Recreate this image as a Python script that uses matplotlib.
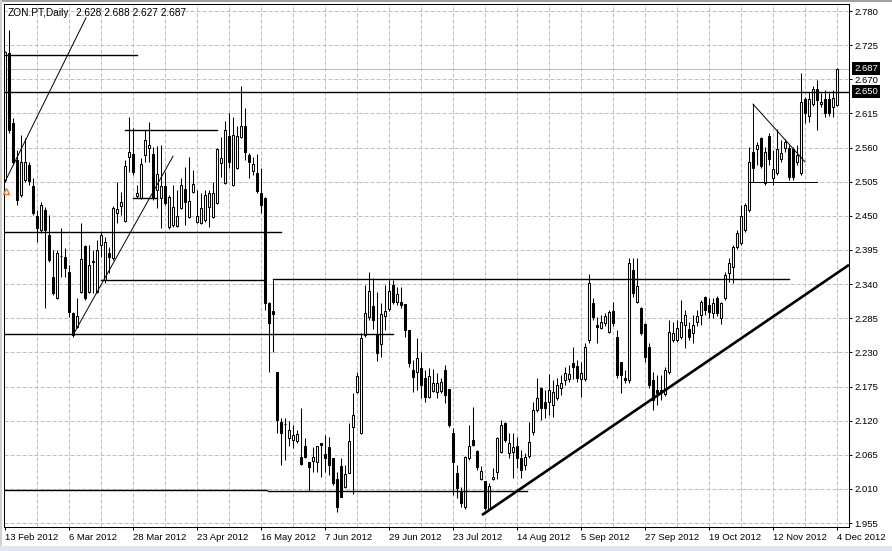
import matplotlib
matplotlib.use('Agg')
import matplotlib.pyplot as plt
import matplotlib.transforms as mtransforms
from matplotlib.patches import Rectangle

plt.rcParams['font.family'] = ['Liberation Sans', 'DejaVu Sans']

symbol = 'ZON.PT,Daily'
last_ohlc = '2.628 2.688 2.627 2.687'

# daily bars, one per trading day from 13 Feb 2012
opens = [2.508, 2.712, 2.600, 2.540, 2.483, 2.508, 2.532, 2.498, 2.450, 2.427,
         2.459, 2.419, 2.351, 2.318, 2.386, 2.384, 2.359, 2.293, 2.271, 2.327,
         2.401, 2.327, 2.376, 2.327, 2.403, 2.347, 2.390, 2.382, 2.454, 2.466,
         2.442, 2.545, 2.550, 2.482, 2.479, 2.548, 2.559, 2.550, 2.492, 2.479,
         2.498, 2.432, 2.435, 2.434, 2.463, 2.493, 2.448, 2.488, 2.440, 2.438,
         2.443, 2.464, 2.448, 2.471, 2.535, 2.503, 2.579, 2.500, 2.527, 2.577,
         2.595, 2.548, 2.522, 2.519, 2.487, 2.479, 2.310, 2.297, 2.198, 2.118,
         2.115, 2.092, 2.089, 2.087, 2.061, 2.079, 2.053, 2.055, 2.053, 2.084,
         2.066, 2.077, 2.060, 2.026, 2.047, 2.013, 2.036, 2.110, 2.166, 2.100,
         2.258, 2.287, 2.305, 2.260, 2.243, 2.289, 2.300, 2.338, 2.311, 2.311,
         2.308, 2.266, 2.202, 2.198, 2.205, 2.189, 2.158, 2.168, 2.166, 2.168,
         2.202, 2.171, 2.100, 2.036, 2.005, 1.981, 2.060, 2.089, 2.071, 2.026,
         2.023, 1.978, 2.026, 2.037, 2.070, 2.116, 2.068, 2.070, 2.079, 2.060,
         2.049, 2.063, 2.102, 2.137, 2.173, 2.150, 2.150, 2.145, 2.157, 2.173,
         2.185, 2.187, 2.213, 2.208, 2.187, 2.187, 2.250, 2.310, 2.274, 2.269,
         2.277, 2.263, 2.297, 2.255, 2.214, 2.189, 2.185, 2.363, 2.311, 2.301,
         2.276, 2.239, 2.185, 2.169, 2.169, 2.163, 2.198, 2.250, 2.250, 2.255,
         2.274, 2.268, 2.261, 2.279, 2.290, 2.319, 2.306, 2.293, 2.317, 2.285,
         2.318, 2.358, 2.368, 2.400, 2.406, 2.427, 2.459, 2.527, 2.558, 2.575,
         2.503, 2.579, 2.511, 2.519, 2.541, 2.559, 2.559, 2.558, 2.537, 2.519,
         2.638, 2.611, 2.630, 2.654, 2.630, 2.638, 2.638, 2.625, 2.628]
highs = [2.716, 2.749, 2.608, 2.556, 2.580, 2.575, 2.537, 2.511, 2.459, 2.472,
         2.464, 2.451, 2.395, 2.395, 2.430, 2.398, 2.371, 2.295, 2.318, 2.438,
         2.403, 2.403, 2.395, 2.411, 2.424, 2.416, 2.400, 2.466, 2.505, 2.488,
         2.540, 2.609, 2.591, 2.500, 2.543, 2.588, 2.601, 2.561, 2.562, 2.564,
         2.521, 2.483, 2.500, 2.492, 2.511, 2.529, 2.545, 2.524, 2.492, 2.487,
         2.492, 2.492, 2.505, 2.559, 2.577, 2.603, 2.616, 2.609, 2.595, 2.659,
         2.624, 2.551, 2.545, 2.550, 2.527, 2.480, 2.311, 2.347, 2.199, 2.124,
         2.124, 2.119, 2.113, 2.105, 2.140, 2.092, 2.054, 2.078, 2.079, 2.084,
         2.097, 2.094, 2.060, 2.037, 2.060, 2.049, 2.116, 2.165, 2.198, 2.261,
         2.338, 2.359, 2.350, 2.327, 2.310, 2.338, 2.347, 2.347, 2.335, 2.335,
         2.308, 2.266, 2.218, 2.253, 2.231, 2.202, 2.205, 2.203, 2.197, 2.189,
         2.210, 2.171, 2.108, 2.049, 2.013, 2.063, 2.113, 2.142, 2.073, 2.047,
         2.023, 2.020, 2.044, 2.094, 2.121, 2.118, 2.100, 2.100, 2.094, 2.073,
         2.068, 2.118, 2.150, 2.189, 2.174, 2.169, 2.195, 2.185, 2.189, 2.193,
         2.206, 2.210, 2.239, 2.218, 2.214, 2.245, 2.356, 2.318, 2.287, 2.290,
         2.293, 2.298, 2.311, 2.266, 2.214, 2.201, 2.382, 2.382, 2.382, 2.303,
         2.277, 2.245, 2.198, 2.193, 2.193, 2.206, 2.282, 2.279, 2.282, 2.314,
         2.298, 2.279, 2.290, 2.298, 2.314, 2.321, 2.317, 2.317, 2.321, 2.311,
         2.359, 2.382, 2.403, 2.427, 2.467, 2.471, 2.561, 2.561, 2.569, 2.577,
         2.561, 2.583, 2.556, 2.590, 2.572, 2.574, 2.564, 2.561, 2.564, 2.680,
         2.641, 2.649, 2.659, 2.669, 2.648, 2.653, 2.648, 2.653, 2.688]
lows = [2.504, 2.583, 2.532, 2.467, 2.480, 2.504, 2.500, 2.451, 2.408, 2.422,
        2.301, 2.376, 2.322, 2.316, 2.351, 2.351, 2.287, 2.255, 2.269, 2.326,
        2.314, 2.326, 2.326, 2.326, 2.384, 2.342, 2.358, 2.379, 2.438, 2.451,
        2.440, 2.520, 2.516, 2.479, 2.477, 2.537, 2.537, 2.475, 2.463, 2.430,
        2.467, 2.429, 2.432, 2.432, 2.461, 2.435, 2.446, 2.487, 2.438, 2.437,
        2.440, 2.432, 2.446, 2.469, 2.513, 2.501, 2.527, 2.498, 2.525, 2.575,
        2.540, 2.511, 2.516, 2.487, 2.455, 2.298, 2.198, 2.231, 2.100, 2.049,
        2.057, 2.079, 2.076, 2.084, 2.049, 2.060, 2.007, 2.037, 2.037, 2.029,
        2.037, 2.032, 2.016, 1.973, 1.997, 2.011, 2.035, 2.002, 2.164, 2.098,
        2.255, 2.282, 2.268, 2.216, 2.222, 2.266, 2.297, 2.308, 2.306, 2.301,
        2.255, 2.206, 2.166, 2.169, 2.157, 2.150, 2.157, 2.166, 2.157, 2.164,
        2.148, 2.110, 2.000, 1.995, 1.981, 1.978, 2.057, 2.079, 2.040, 2.024,
        1.976, 1.976, 2.024, 2.026, 2.068, 2.086, 2.060, 2.028, 2.044, 2.028,
        2.040, 2.060, 2.097, 2.134, 2.121, 2.124, 2.129, 2.126, 2.153, 2.161,
        2.177, 2.182, 2.187, 2.182, 2.158, 2.184, 2.245, 2.282, 2.245, 2.268,
        2.272, 2.261, 2.272, 2.189, 2.165, 2.181, 2.181, 2.319, 2.310, 2.258,
        2.214, 2.173, 2.137, 2.145, 2.153, 2.160, 2.196, 2.247, 2.247, 2.252,
        2.237, 2.250, 2.245, 2.272, 2.274, 2.290, 2.285, 2.285, 2.289, 2.276,
        2.314, 2.343, 2.342, 2.397, 2.403, 2.424, 2.456, 2.505, 2.532, 2.527,
        2.500, 2.532, 2.500, 2.516, 2.537, 2.553, 2.508, 2.508, 2.532, 2.516,
        2.600, 2.601, 2.627, 2.588, 2.625, 2.609, 2.611, 2.609, 2.627]
closes = [2.714, 2.588, 2.537, 2.475, 2.537, 2.537, 2.506, 2.455, 2.430, 2.467,
          2.427, 2.379, 2.326, 2.390, 2.385, 2.366, 2.295, 2.258, 2.289, 2.380,
          2.318, 2.371, 2.376, 2.395, 2.419, 2.408, 2.384, 2.463, 2.461, 2.472,
          2.530, 2.553, 2.520, 2.487, 2.533, 2.572, 2.564, 2.479, 2.517, 2.498,
          2.471, 2.480, 2.464, 2.450, 2.500, 2.472, 2.474, 2.501, 2.450, 2.463,
          2.483, 2.487, 2.487, 2.558, 2.543, 2.588, 2.537, 2.580, 2.579, 2.595,
          2.553, 2.537, 2.533, 2.490, 2.467, 2.310, 2.277, 2.292, 2.121, 2.100,
          2.114, 2.105, 2.097, 2.099, 2.050, 2.061, 2.045, 2.061, 2.079, 2.081,
          2.060, 2.049, 2.020, 1.981, 1.997, 2.034, 2.087, 2.129, 2.192, 2.253,
          2.293, 2.329, 2.282, 2.229, 2.292, 2.297, 2.329, 2.311, 2.324, 2.306,
          2.266, 2.213, 2.190, 2.221, 2.177, 2.158, 2.192, 2.181, 2.181, 2.182,
          2.161, 2.113, 2.053, 2.011, 1.987, 2.061, 2.079, 2.081, 2.045, 2.039,
          1.979, 2.015, 2.029, 2.092, 2.113, 2.089, 2.084, 2.078, 2.060, 2.040,
          2.061, 2.086, 2.137, 2.157, 2.140, 2.140, 2.169, 2.166, 2.177, 2.181,
          2.197, 2.195, 2.206, 2.189, 2.197, 2.239, 2.342, 2.287, 2.271, 2.279,
          2.289, 2.295, 2.277, 2.194, 2.194, 2.185, 2.374, 2.326, 2.337, 2.261,
          2.223, 2.177, 2.153, 2.164, 2.168, 2.202, 2.263, 2.261, 2.269, 2.279,
          2.290, 2.255, 2.274, 2.289, 2.311, 2.298, 2.295, 2.310, 2.293, 2.310,
          2.355, 2.374, 2.400, 2.422, 2.450, 2.467, 2.537, 2.553, 2.564, 2.530,
          2.553, 2.541, 2.525, 2.558, 2.551, 2.569, 2.512, 2.512, 2.548, 2.633,
          2.616, 2.638, 2.654, 2.637, 2.633, 2.616, 2.616, 2.640, 2.687]

date_labels = ['13 Feb 2012', '6 Mar 2012', '28 Mar 2012', '23 Apr 2012',
               '16 May 2012', '7 Jun 2012', '29 Jun 2012', '23 Jul 2012',
               '14 Aug 2012', '5 Sep 2012', '27 Sep 2012', '19 Oct 2012',
               '12 Nov 2012', '4 Dec 2012']
price_ticks = [2.780, 2.725, 2.670, 2.615, 2.560, 2.505, 2.450, 2.395, 2.340,
               2.285, 2.230, 2.175, 2.120, 2.065, 2.010, 1.955]
bid_price = 2.687
level_price = 2.650

# drawn objects as (bar, price, bar, price)
hlines = [(-0.25, 2.709, 33, 2.709), (30, 2.589, 53, 2.589),
          (32, 2.478, 38, 2.478), (-0.25, 2.4235, 69, 2.4235),
          (24, 2.347, 65, 2.347), (67, 2.349, 196, 2.349),
          (-0.25, 2.259, 97, 2.259), (-0.25, 2.008, 65.5, 2.008),
          (65.75, 2.007, 130.5, 2.007)]
thin_lines = [(0, 2.505, 20.25, 2.769), (17, 2.258, 42, 2.546),
              (187, 2.630, 187, 2.505), (187, 2.630, 200, 2.537),
              (186, 2.505, 203, 2.505)]
thick_trend = (119.25, 1.968, 211, 2.371)

W, H = 892, 551
fig = plt.figure(figsize=(W / 100, H / 100), dpi=100)
fig.patch.set_facecolor('white')
ax = fig.add_axes([4 / W, 1 - 527 / H, 845 / W, 523 / H])
ax.set_xlim(-0.25, 211)
ax.set_ylim(1.9487, 2.7913)

grid_kw = dict(color='#c0c0c0', lw=0.72, ls=(0, (4, 2)), zorder=1)
for p in price_ticks:
    ax.axhline(p, **grid_kw)
for i in range(8, len(opens), 8):
    ax.axvline(i, **grid_kw)
ax.axhline(bid_price, color='#c0c0c0', lw=0.8, zorder=1)

# candles
xs = range(len(opens))
ax.vlines(xs, lows, highs, color='black', lw=0.75, zorder=3)
for i, o, c in zip(xs, opens, closes):
    face = 'white' if c >= o else 'black'
    ax.add_patch(Rectangle((i - 0.28, min(o, c)), 0.56, max(abs(c - o), 0.0008),
                           facecolor=face, edgecolor='black', lw=0.75, zorder=4))

# analysis objects
ax.axhline(level_price, color='black', lw=1.0, zorder=5)
for x0, y0, x1, y1 in hlines:
    ax.plot([x0, x1], [y0, y1], color='black', lw=1.0, zorder=5)
for x0, y0, x1, y1 in thin_lines:
    ax.plot([x0, x1], [y0, y1], color='black', lw=0.7, zorder=5)
ax.plot(thick_trend[::2], thick_trend[1::2], color='black', lw=1.9, zorder=5,
        solid_capstyle='butt')
ax.plot([0.3], [2.49], marker='^', ms=5, mfc='none', mec='#f07830', mew=1.0,
        zorder=6, clip_on=False)

for s in ax.spines.values():
    s.set_linewidth(0.75)

ax.yaxis.tick_right()
ax.set_yticks(price_ticks)
ax.set_yticklabels(['%.3f' % p for p in price_ticks])
ax.set_xticks(range(0, 16 * len(date_labels), 16))
ax.set_xticklabels(date_labels, ha='left')
ax.tick_params(axis='y', direction='out', length=2.5, width=0.75, pad=1.5,
               labelsize=6.8, colors='black')
ax.tick_params(axis='x', direction='out', length=2.5, width=0.75, pad=1.5,
               labelsize=6.8, colors='black')

box_tr = mtransforms.blended_transform_factory(ax.transAxes, ax.transData)
for p in (bid_price, level_price):
    ax.text(852 / 845 - 4 / 845 + 0.003, p, '%.3f' % p, transform=box_tr,
            ha='left', va='center', fontsize=6.8, color='white', zorder=7,
            bbox=dict(facecolor='black', edgecolor='none', pad=1.5))

fig.text(8 / W, 1 - 13 / H, symbol, ha='left', va='center', fontsize=7.3)
fig.text(76 / W, 1 - 13 / H, last_ohlc, ha='left', va='center', fontsize=7.3)

# window frame
fig.patches.append(Rectangle((0, 1 - 1.5 / H), 1, 1.5 / H, transform=fig.transFigure,
                             facecolor='#a0a0a0', edgecolor='none'))
fig.patches.append(Rectangle((0, 0), 2 / W, 1, transform=fig.transFigure,
                             facecolor='#d4d0c8', edgecolor='none'))
fig.patches.append(Rectangle((0, 0), 1, 5 / H, transform=fig.transFigure,
                             facecolor='#dde7f3', edgecolor='none'))

fig.savefig('out.png', dpi=100)
